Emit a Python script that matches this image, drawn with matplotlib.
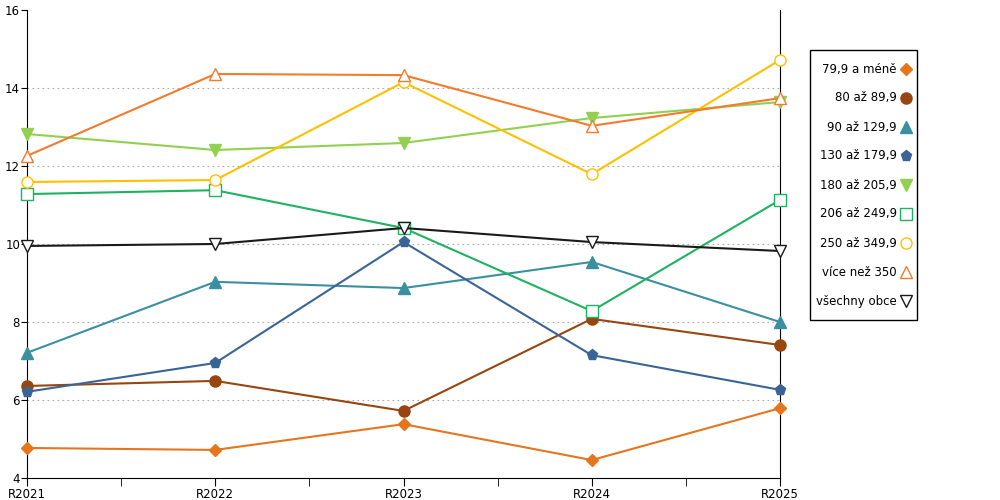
import matplotlib
matplotlib.use("Agg")
import matplotlib.pyplot as plt
from matplotlib.ticker import MultipleLocator
from matplotlib.lines import Line2D
from matplotlib.patches import Rectangle

years = ["R2021", "R2022", "R2023", "R2024", "R2025"]
labels = ["79,9 a méně", "80 až 89,9", "90 až 129,9", "130 až 179,9", "180 až 205,9",
          "206 až 249,9", "250 až 349,9", "více než 350", "všechny obce"]
s1 = [4.77, 4.72, 5.38, 4.46, 5.79]
s2 = [6.36, 6.49, 5.72, 8.08, 7.41]
s3 = [7.21, 9.03, 8.87, 9.54, 8.00]
s4 = [6.21, 6.95, 10.05, 7.15, 6.26]
s5 = [12.82, 12.41, 12.59, 13.23, 13.64]
s6 = [11.28, 11.38, 10.41, 8.28, 11.13]
s7 = [11.59, 11.64, 14.15, 11.79, 14.72]
s8 = [12.26, 14.36, 14.33, 13.03, 13.74]
s9 = [9.95, 10.00, 10.41, 10.05, 9.82]
series = [s1, s2, s3, s4, s5, s6, s7, s8, s9]
colors = ["#e6761e", "#99450f", "#3a8fa0", "#3a6496", "#92d050",
          "#1db35f", "#ffc000", "#f47a2c", "#1a1a1a"]
markers = ["D", "o", "^", "p", "v", "s", "o", "^", "v"]
filled = [True, True, True, True, True, False, False, False, False]
msizes = [6, 8, 8, 8, 8, 8, 8, 9, 9]

plt.rcParams['font.family'] = ['DejaVu Sans']
fig = plt.figure(figsize=(10, 5), dpi=100)
ax = fig.add_axes([0.027, 0.044, 0.753, 0.936])
x = list(range(len(years)))
for vals, lab, c, m, f, ms in zip(series, labels, colors, markers, filled, msizes):
    ax.plot(x, vals, color=c, lw=1.5, marker=m, markersize=ms,
            markerfacecolor=c if f else "white", markeredgecolor=c,
            markeredgewidth=1.0, label=lab, clip_on=False, zorder=3)
ax.set_xlim(0, 4)
ax.set_ylim(4, 16)
ax.yaxis.set_major_locator(MultipleLocator(2))
ax.set_xticks(x)
ax.set_xticklabels(years, fontsize=8.5)
ax.set_xticks([0.5, 1.5, 2.5, 3.5], minor=True)
ax.tick_params(axis='x', which='both', length=6, pad=1)
ax.tick_params(axis='y', labelsize=8.5, length=4, pad=1)
for yv in [6, 8, 10, 12, 14]:
    ax.axhline(yv, linestyle=(0, (1.5, 3)), color='#aaaaaa', lw=0.8, zorder=1)
ax.spines['top'].set_visible(False)

# manual legend (markers right of right-aligned text)
W, H = 1000, 500
def fx(px): return px / W
def fy(py): return 1 - py / H
fig.add_artist(Rectangle((fx(810), fy(320)), fx(107), 270 / H, transform=fig.transFigure,
                         fill=False, edgecolor='black', lw=1.0))
for i, (lab, c, m, f, ms) in enumerate(zip(labels, colors, markers, filled, msizes)):
    yy = fy(69 + i * 29)
    fig.text(fx(897), yy, lab, ha='right', va='center', fontsize=8.5)
    fig.add_artist(Line2D([fx(906)], [yy], transform=fig.transFigure, marker=m,
                          markersize=ms, color=c, markerfacecolor=c if f else "white",
                          markeredgecolor=c, linestyle='None'))
fig.savefig("out.png", dpi=100)
